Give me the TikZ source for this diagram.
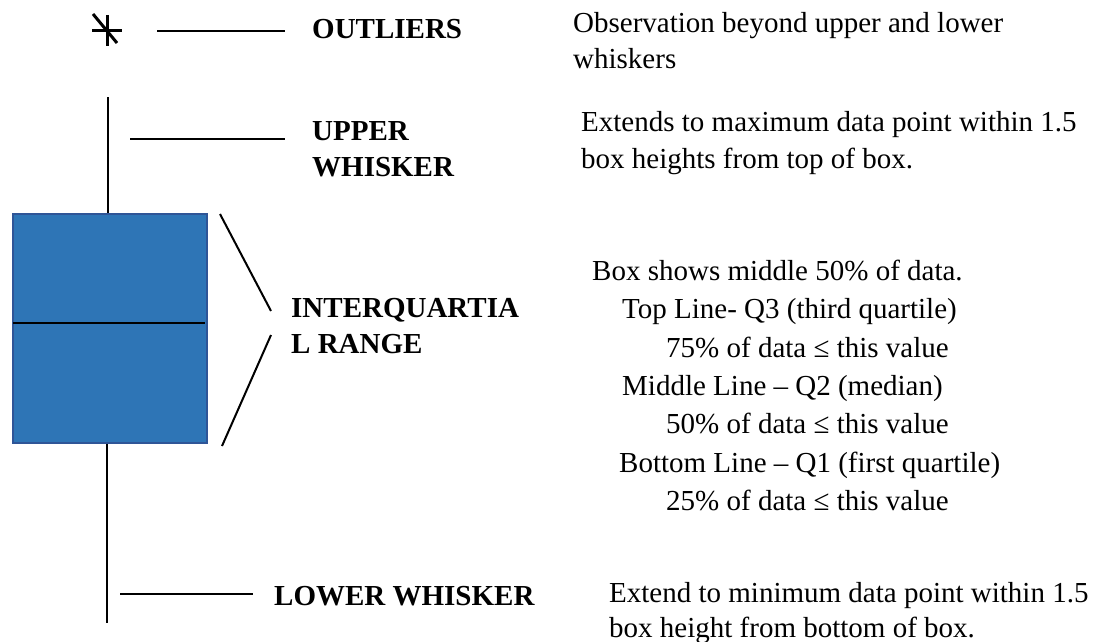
\documentclass[tikz,border=0pt]{standalone}
\usepackage{fontspec}
\setmainfont{Liberation Serif}
\usetikzlibrary{calc}
\begin{document}
\begin{tikzpicture}[x=1pt,y=-1pt,
  txt/.style={anchor=base west,inner sep=0pt,font=\fontsize{29}{36}\selectfont},
  lbl/.style={anchor=base west,inner sep=0pt,font=\fontsize{29}{36}\selectfont\bfseries},
  pointer/.style={line width=2pt,black},
  whisk/.style={line width=2.5pt,black}]
\useasboundingbox (0,0) rectangle (1098,642);
\definecolor{boxfill}{HTML}{2E75B6}
\definecolor{boxedge}{HTML}{2F5597}
% box
\node[draw=boxedge,fill=boxfill,line width=1.5pt,minimum width=194pt,minimum height=229pt,inner sep=0pt,anchor=north west] (box) at (12,213) {};
\coordinate (medL) at (13,323);
\coordinate (medR) at (205,323);
\draw[line width=1.5pt] (medL) -- (medR);
% whiskers
\coordinate (wtop) at (108,97);
\coordinate (wbot) at (107,623);
\draw[whisk] (wtop) -- (box.north -| wtop);
\draw[whisk] (box.south -| wbot) -- (wbot);
% outlier asterisk
\coordinate (ast) at (107,31);
\draw[line width=3pt] ($(ast)+(0,-16)$) -- ($(ast)+(0,15)$);
\draw[line width=3pt] ($(ast)+(-15,0)$) -- ($(ast)+(15,0)$);
\draw[line width=3pt] ($(ast)+(-14,-17)$) -- ($(ast)+(10,12)$);
% pointer lines
\coordinate (o1) at (157,31); \coordinate (o2) at (285,31);
\draw[pointer] (o1) -- (o2);
\coordinate (u1) at (130,139); \coordinate (u2) at (285,139);
\draw[pointer] (u1) -- (u2);
\coordinate (d1) at (220,214); \coordinate (d2) at (271,311);
\draw[pointer] (d1) -- (d2);
\coordinate (d3) at (271,335); \coordinate (d4) at (222,446);
\draw[pointer] (d3) -- (d4);
\coordinate (l1) at (120,594); \coordinate (l2) at (253,594);
\draw[pointer] (l1) -- (l2);
% labels
\node[lbl] (outl) at (312,39) {OUTLIERS};
\node[lbl] (up1) at (312,140) {UPPER};
\node[lbl] (up2) at (312,176) {WHISKER};
\node[lbl] (iq1) at (291,317) {INTERQUARTIA};
\node[lbl] (iq2) at (291,353) {L RANGE};
\node[lbl] (low) at (274,605) {LOWER WHISKER};
% descriptions
\node[txt] (ob1) at (573,33) {Observation beyond upper and lower};
\node[txt] (ob2) at (573,69) {whiskers};
\node[txt] (ex1) at (581,131) {Extends to maximum data point within 1.5};
\node[txt] (ex2) at (581,168) {box heights from top of box.};
\node[txt] (b1) at (592,280) {Box shows middle 50\% of data.};
\node[txt] (b2) at (622,318) {Top Line- Q3 (third quartile)};
\node[txt] (b3) at (666,357) {75\% of data ≤ this value};
\node[txt] (b4) at (622,395) {Middle Line \textendash{} Q2 (median)};
\node[txt] (b5) at (666,433) {50\% of data ≤ this value};
\node[txt] (b6) at (619,472) {Bottom Line \textendash{} Q1 (first quartile)};
\node[txt] (b7) at (666,510) {25\% of data ≤ this value};
\node[txt] (mn1) at (609,602) {Extend to minimum data point within 1.5};
\node[txt] (mn2) at (609,637) {box height from bottom of box.};
\end{tikzpicture}
\end{document}
